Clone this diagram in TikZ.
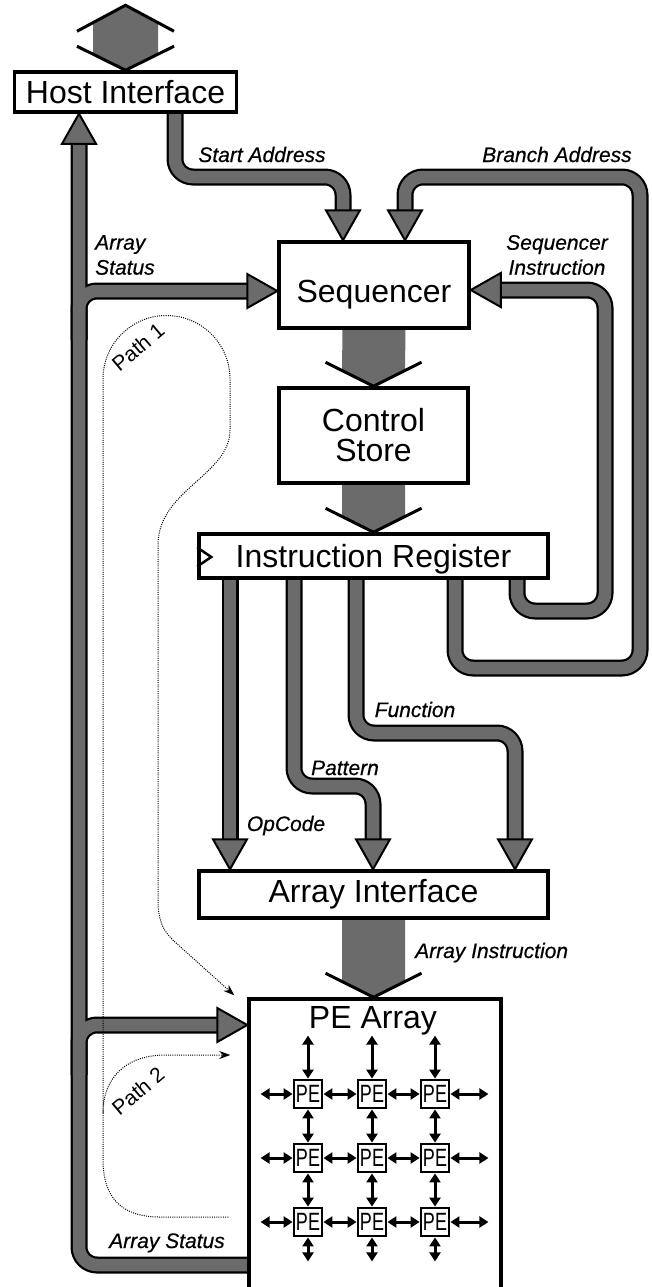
\documentclass[tikz,border=0pt]{standalone}
\usepackage{fontspec}
\setmainfont{Liberation Sans}
\newfontfamily\tagfamily{Liberation Sans}[FakeBold=0.5]
\usepackage{graphicx}
\usetikzlibrary{arrows.meta,calc}
\definecolor{tubegray}{gray}{0.42}
\pgfdeclarelayer{tubeedges}
\pgfdeclarelayer{tubecores}
\pgfsetlayers{tubeedges,tubecores,main}

\newcommand\boxfont{\fontsize{32}{30}\selectfont}
\newcommand\tagfont{\tagfamily\fontsize{21}{25}\selectfont\itshape}
\newcommand\pathfont{\fontsize{21}{24}\selectfont}
\newcommand\pefont{\fontsize{25}{26}\selectfont}

% a bus drawn as an outlined grey tube: black edge below, grey core above
\newcommand\tube[1]{%
  \begin{pgfonlayer}{tubeedges}\draw[tubeedge] #1;\end{pgfonlayer}%
  \begin{pgfonlayer}{tubecores}\draw[tubecore] #1;\end{pgfonlayer}}

% arrowheads closing a tube, given the tip
\newcommand\headdown[1]{\filldraw[tubehead] (#1) -- ++(-17,-30) -- ++(34,0) -- cycle;}
\newcommand\headup[1]{\filldraw[tubehead] (#1) -- ++(-17,30) -- ++(34,0) -- cycle;}
\newcommand\headright[1]{\filldraw[tubehead] (#1) -- ++(-30,-17) -- ++(0,34) -- cycle;}
\newcommand\headleft[1]{\filldraw[tubehead] (#1) -- ++(30,-17) -- ++(0,34) -- cycle;}

% wide bus from the bottom of one block to the top of the next
\newcommand\busarrow[2]{%
  \begin{pgfonlayer}{tubecores}
    \fill[tubegray] ($(#1)+(-31.5,0)$) -- ($(#2)+(-31.5,-16)$) -- (#2)
      -- ($(#2)+(31.5,-16)$) -- ($(#1)+(31.5,0)$) -- cycle;
  \end{pgfonlayer}
  \draw[buswing] ($(#2)+(-48,-24)$) -- (#2) -- ($(#2)+(48,-24)$);}

\begin{document}
\begin{tikzpicture}[x=1pt, y=-1pt,
  tubeedge/.style={draw=black, line width=17pt, rounded corners=18pt},
  tubecore/.style={draw=tubegray, line width=12.5pt, rounded corners=18pt},
  tubehead/.style={fill=tubegray, draw=black, line width=2pt, line join=miter},
  buswing/.style={draw=black, line width=3pt, line join=miter},
  blockbox/.style={draw=black, line width=3.5pt, fill=white, inner sep=0pt,
    font=\boxfont, align=center},
  lbl/.style={font=\tagfont, inner sep=0pt},
  pathlbl/.style={font=\pathfont, inner sep=0pt, rotate=40},
  pebox/.style={draw=black, line width=2.8pt, fill=white, minimum size=28pt,
    inner sep=0pt, font=\pefont},
  gridarrow/.style={line width=3pt,
    {Triangle[length=9pt,width=11pt]}-{Triangle[length=9pt,width=11pt]}},
  dotpath/.style={line width=1pt, dash pattern=on 1pt off 1.2pt,
    -{Stealth[length=11pt,width=8pt]}}]

\useasboundingbox (0,0) rectangle (651,1287);

% blocks
\node[blockbox, minimum width=222pt, minimum height=40pt] (host) at (125.5,92) {Host Interface};
\node[blockbox, minimum width=190pt, minimum height=86pt, text height=34pt, text depth=0pt] (seq) at (374,285) {Sequencer};
\node[blockbox, minimum width=189pt, minimum height=95pt] (cs) at (373.5,435.5) {Control\\Store};
\node[blockbox, minimum width=349pt, minimum height=44pt, text depth=0pt] (ir) at (373.5,556) {Instruction Register};
\node[blockbox, minimum width=349pt, minimum height=47pt] (ai) at (373.5,894.5) {Array Interface};
\node[blockbox, minimum width=252pt, minimum height=320pt] (pe) at (375,1159) {};
\node[font=\boxfont, anchor=base, inner sep=0pt] (petitle) at (373,1028) {PE Array};

% clock input of the instruction register
\draw[line width=2.5pt, line join=miter] ($(ir.west)+(0,-8.5)$) -- ($(ir.west)+(14,1)$) -- ($(ir.west)+(0,10.5)$);

% host bus, double headed
\coordinate (hostbus) at ($(host.north)+(0,-65)$);
\begin{pgfonlayer}{tubecores}
  \fill[tubegray] (host.north) -- ++(-32.5,-16) -- ++(0,-31) -- (hostbus)
    -- ($(host.north)+(32.5,-47)$) -- ++(0,31) -- cycle;
\end{pgfonlayer}
\draw[buswing] ($(host.north)+(-48.5,-24)$) -- (host.north) -- ($(host.north)+(48.5,-24)$);
\draw[buswing] ($(hostbus)+(-48.5,26)$) -- (hostbus) -- ($(hostbus)+(48.5,26)$);

% wide buses down the middle
\busarrow{seq.south}{cs.north}
\busarrow{cs.south}{ir.north}
\busarrow{ai.south}{ai.south |- pe.north}

% start address
\tube{(host.south -| 175,0) -- (175,177) -- (343,177) -- ($(seq.north -| 343,0)+(0,-28)$)}
% branch address, outer loop from the instruction register
\tube{(ir.south -| 455,0) -- (455,668) -- (640,668) -- (640,177) -- (405,177) -- ($(seq.north -| 405,0)+(0,-28)$)}
% sequencer instruction, inner loop
\tube{(ir.south -| 517,0) -- (517,611) -- (605,611) -- (605,290) -- ($(seq.east |- 0,290)+(28,0)$)}
% array status back to the host, the sequencer and the array
\tube{(pe.west |- 0,1265) -- (79,1265) -- ($(host.south -| 79,0)+(0,28)$)}
\tube{(79,340) -- (79,291) -- ($(seq.west |- 0,291)+(-28,0)$)}
\tube{(79,1075) -- (79,1025) -- ($(pe.west |- 0,1025)+(-28,0)$)}
% opcode, pattern, function
\tube{(ir.south -| 230,0) -- ($(ai.north -| 230,0)+(0,-28)$)}
\tube{(ir.south -| 294,0) -- (294,786) -- (373,786) -- ($(ai.north -| 373,0)+(0,-28)$)}
\tube{(ir.south -| 356,0) -- (356,733) -- (515,733) -- ($(ai.north -| 515,0)+(0,-28)$)}

\headdown{seq.north -| 343,0}
\headdown{seq.north -| 405,0}
\headleft{seq.east |- 0,290}
\headright{seq.west |- 0,291}
\headright{pe.west |- 0,1025}
\headup{host.south -| 79,0}
\headdown{ai.north -| 230,0}
\headdown{ai.north -| 373,0}
\headdown{ai.north -| 515,0}

% bus labels
\node[lbl, anchor=base] (lsa) at (262,162) {Start Address};
\node[lbl, anchor=base] (lba) at (557,162) {Branch Address};
\node[lbl, align=center] (lsi) at (557,255) {Sequencer\\Instruction};
\node[lbl, align=left, anchor=west] (las1) at (95,255) {Array\\Status};
\node[lbl, anchor=base] (lfn) at (415,717) {Function};
\node[lbl, anchor=base] (lpat) at (345,775) {Pattern};
\node[lbl, anchor=base] (lop) at (286,831) {OpCode};
\node[lbl, anchor=base west] (lai) at (415,958) {Array Instruction};
\node[lbl, anchor=base] (las2) at (167,1248) {Array Status};

% processing elements
\foreach \r/\yy in {1/1094,2/1158,3/1222} {
  \foreach \c/\xx in {1/308,2/372,3/435} {
    \node[pebox] (pe-\r-\c) at (\xx,\yy) {\scalebox{0.72}[1]{PE}};
  }
}
\foreach \c in {1,2,3} {
  \coordinate (gt-\c) at ($(pe-1-\c.north)+(0,-43)$);
  \coordinate (gb-\c) at ($(pe-3-\c.south)+(0,24)$);
  \draw[gridarrow] (gt-\c) -- (pe-1-\c);
  \draw[gridarrow] (pe-1-\c) -- (pe-2-\c);
  \draw[gridarrow] (pe-2-\c) -- (pe-3-\c);
  \draw[gridarrow] (pe-3-\c) -- (gb-\c);
}
\foreach \r in {1,2,3} {
  \coordinate (gl-\r) at ($(pe-\r-1.west)+(-32,0)$);
  \coordinate (gr-\r) at ($(pe-\r-3.east)+(38,0)$);
  \draw[gridarrow] (gl-\r) -- (pe-\r-1);
  \draw[gridarrow] (pe-\r-1) -- (pe-\r-2);
  \draw[gridarrow] (pe-\r-2) -- (pe-\r-3);
  \draw[gridarrow] (pe-\r-3) -- (gr-\r);
}

% control paths, dotted
\coordinate (p0) at ($(pe.west |- 0,1217)+(-19,0)$);
\coordinate (p1end) at ($(pe.north west)+(-13,-2)$);
\coordinate (p2end) at ($(pe.west |- 0,1055)+(-17,0)$);
\draw[dotpath] (p0) -- (160,1217) .. controls (122,1217) and (103,1198) .. (103,1160)
  -- (103,379) arc[start angle=180, end angle=360, radius=63.5]
  -- (230,430) .. controls (230,475) and (158,490) .. (158,545)
  -- (158,900) .. controls (158,922) and (164,932) .. (175,942) -- (p1end);
\draw[dotpath] (103,1113) .. controls (103,1077) and (127,1055) .. (165,1055) -- (p2end);

\node[pathlbl] (lp1) at (138,347) {Path 1};
\node[pathlbl] (lp2) at (138,1091) {Path 2};

\end{tikzpicture}
\end{document}
